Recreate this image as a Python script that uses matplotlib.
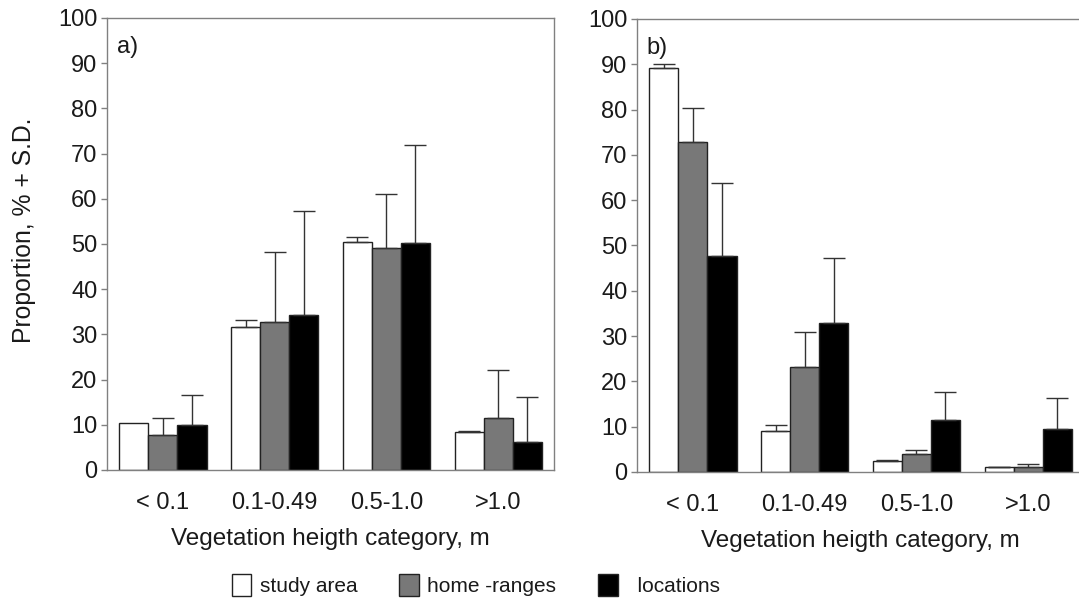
import matplotlib
matplotlib.use('Agg')
import matplotlib.pyplot as plt
import numpy as np

plt.rcParams['font.family'] = ['Liberation Sans', 'DejaVu Sans']

categories = ['< 0.1', '0.1-0.49', '0.5-1.0', '>1.0']
series = ['study area', 'home -ranges', 'locations']

# panel a) mean proportion and SD
a_study = [10.5, 31.7, 50.4, 8.3]
a_study_sd = [0.0, 1.5, 1.2, 0.3]
a_home = [7.7, 32.7, 49.1, 11.4]
a_home_sd = [3.8, 15.5, 11.9, 10.7]
a_loc = [10.0, 34.4, 50.3, 6.3]
a_loc_sd = [6.5, 22.9, 21.7, 9.9]

# panel b)
b_study = [89.1, 9.1, 2.5, 1.0]
b_study_sd = [0.9, 1.3, 0.2, 0.1]
b_home = [72.9, 23.2, 4.0, 1.2]
b_home_sd = [7.5, 7.7, 0.8, 0.5]
b_loc = [47.6, 32.9, 11.5, 9.5]
b_loc_sd = [16.1, 14.4, 6.1, 6.9]

colors = ['white', '#787878', 'black']
spine_col = '#808080'
txt_col = '#1a1a1a'


def draw_panel(ax, means, sds, tag):
    x = np.arange(len(categories))
    w = 0.26
    handles = []
    for i in range(3):
        xs = x + (i - 1) * w
        b = ax.bar(xs, means[i], w, color=colors[i], edgecolor='#222222',
                   linewidth=1.0, label=series[i], zorder=2)
        handles.append(b)
        sd = np.array(sds[i])
        m = np.array(means[i])
        keep = sd > 0
        ax.errorbar(xs[keep], m[keep], yerr=[np.zeros(keep.sum()), sd[keep]],
                    fmt='none', ecolor='#333333', elinewidth=1.0,
                    capsize=8, capthick=1.0, zorder=3)
    ax.set_xlim(-0.5, 3.5)
    ax.set_ylim(0, 100)
    ax.set_yticks(np.arange(0, 101, 10))
    ax.set_xticks(x)
    ax.set_xticklabels(categories)
    ax.tick_params(axis='x', length=0, pad=16, labelsize=17, colors=txt_col)
    ax.tick_params(axis='y', length=4, width=1, direction='out', pad=3,
                   labelsize=17, colors=txt_col, color=spine_col)
    for s in ax.spines.values():
        s.set_color(spine_col)
        s.set_linewidth(1.0)
    ax.set_xlabel('Vegetation heigth category, m', fontsize=17.5,
                  color=txt_col, labelpad=10)
    ax.text(0.022, 0.935, tag, transform=ax.transAxes, fontsize=17,
            color=txt_col, va='center')
    return handles


fig = plt.figure(figsize=(10.79, 6.08), dpi=100)
ax1 = fig.add_axes([0.0992, 0.2270, 0.4143, 0.7434])
ax2 = fig.add_axes([0.5904, 0.2237, 0.4143, 0.7451])

h = draw_panel(ax1, [a_study, a_home, a_loc],
               [a_study_sd, a_home_sd, a_loc_sd], 'a)')
draw_panel(ax2, [b_study, b_home, b_loc],
           [b_study_sd, b_home_sd, b_loc_sd], 'b)')

ax1.set_ylabel('Proportion, % + S.D.', fontsize=17.8, color=txt_col)
ax1.yaxis.set_label_coords(-0.158, 0.53)

leg = fig.legend(h, ['study area', 'home -ranges', '  locations'],
                 loc='center', bbox_to_anchor=(0.441, 0.038), ncol=3,
                 frameon=False, fontsize=15, handlelength=0.95,
                 handleheight=1.3, handletextpad=0.4, columnspacing=2.0)
for t in leg.get_texts():
    t.set_color(txt_col)

fig.savefig('out.png', dpi=100)
